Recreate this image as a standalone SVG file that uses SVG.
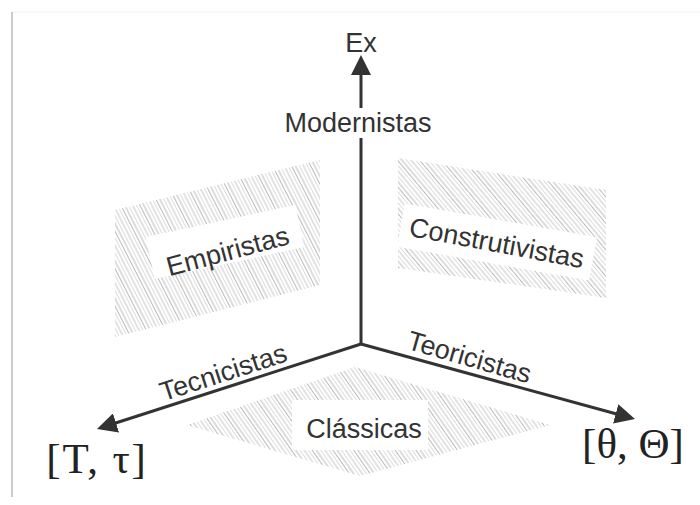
<svg xmlns="http://www.w3.org/2000/svg" width="700" height="505" viewBox="0 0 700 505">
<style>
.lbl{font-family:"Liberation Sans",Arial,sans-serif;font-size:27px;fill:#333;text-anchor:middle}
.math{font-family:"Liberation Serif","Times New Roman",serif;font-size:43px;fill:#222;text-anchor:middle}
.axis{stroke:#333;stroke-width:3;fill:none}
.bg{fill:#fff}
.h1{stroke:#a8a8a8;stroke-width:0.8}
.h2{stroke:#cdcdcd;stroke-width:0.7}
.h3{stroke:#b8b8b8;stroke-width:0.8}
</style>
<defs>
<marker id="arr" markerUnits="userSpaceOnUse" markerWidth="20" markerHeight="20" refX="2" refY="10" orient="auto">
<path d="M0,0 L20,10 L0,20 z" fill="#333"/>
</marker>
<pattern id="hA" width="17" height="20" patternUnits="userSpaceOnUse" patternTransform="rotate(-27)">
<line class="h1" x1="1" y1="0" x2="1" y2="20"/>
<line class="h2" x1="4.5" y1="0" x2="4.5" y2="20"/>
<line class="h3" x1="8" y1="0" x2="8" y2="20"/>
<line class="h2" x1="11.5" y1="0" x2="11.5" y2="20"/>
<line class="h1" x1="14.5" y1="0" x2="14.5" y2="20"/>
</pattern>
<pattern id="hB" width="17" height="20" patternUnits="userSpaceOnUse" patternTransform="rotate(-40)">
<line class="h1" x1="1" y1="0" x2="1" y2="20"/>
<line class="h2" x1="4.5" y1="0" x2="4.5" y2="20"/>
<line class="h3" x1="8" y1="0" x2="8" y2="20"/>
<line class="h2" x1="11.5" y1="0" x2="11.5" y2="20"/>
<line class="h1" x1="14.5" y1="0" x2="14.5" y2="20"/>
</pattern>
<pattern id="hC" width="17" height="20" patternUnits="userSpaceOnUse" patternTransform="rotate(-35)">
<line class="h1" x1="1" y1="0" x2="1" y2="20"/>
<line class="h2" x1="4.5" y1="0" x2="4.5" y2="20"/>
<line class="h3" x1="8" y1="0" x2="8" y2="20"/>
<line class="h2" x1="11.5" y1="0" x2="11.5" y2="20"/>
<line class="h1" x1="14.5" y1="0" x2="14.5" y2="20"/>
</pattern>
</defs>
<rect width="700" height="505" fill="#fff"/>
<line x1="12" y1="12" x2="700" y2="12" stroke="#f0f0f0" stroke-width="1"/>
<line x1="12" y1="12" x2="12" y2="497" stroke="#999" stroke-width="1"/>

<g id="empiristas">
<polygon points="115,210 320,160 320,285 115,337" fill="url(#hA)"/>
<rect class="bg" x="148.5" y="220.5" width="153" height="43" transform="rotate(-12 225 242)"/>
<text class="lbl" x="230" y="260" transform="rotate(-15 230 260)">Empiristas</text>
</g>

<g id="construtivistas">
<polygon points="398,158 606,190 606,298 398,268" fill="url(#hB)"/>
<rect class="bg" x="399.5" y="220" width="195" height="44" transform="rotate(10 497 242)"/>
<text class="lbl" x="495" y="252" transform="rotate(10.6 495 252)">Construtivistas</text>
</g>

<g id="classicas">
<polygon points="187,425 355,367 550,425 360,476" fill="url(#hC)"/>
<rect class="bg" x="292" y="400" width="136" height="50"/>
<text class="lbl" x="364" y="438">Clássicas</text>
</g>

<g id="connectors">
<line class="axis" x1="361" y1="344" x2="361" y2="73" marker-end="url(#arr)"/>
<line class="axis" x1="361" y1="344" x2="114.1" y2="423.5" marker-end="url(#arr)"/>
<line class="axis" x1="361" y1="344" x2="617.6" y2="414.3" marker-end="url(#arr)"/>
</g>

<g id="ex">
<text class="lbl" x="361" y="52">Ex</text>
</g>

<g id="modernistas">
<rect class="bg" x="280" y="108" width="158" height="30"/>
<text class="lbl" x="358" y="132">Modernistas</text>
</g>

<g id="tecnicistas">
<text class="lbl" x="226" y="381" transform="rotate(-18 226 381)">Tecnicistas</text>
</g>

<g id="teoricistas">
<text class="lbl" x="467" y="366" transform="rotate(16 467 366)">Teoricistas</text>
</g>

<g id="t-axis-label">
<text class="math" x="97" y="473" letter-spacing="1.8">[T, τ]</text>
</g>

<g id="theta-axis-label">
<text class="math" x="633" y="458">[θ, Θ]</text>
</g>
</svg>
